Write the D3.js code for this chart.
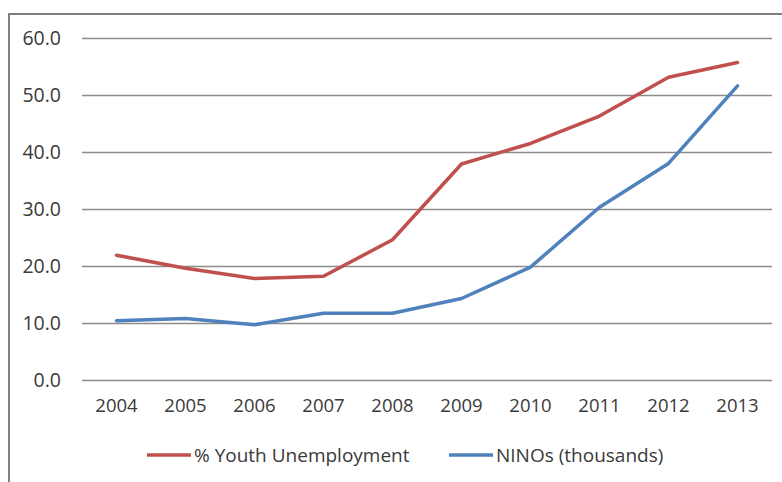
<!DOCTYPE html>
<html>
<head>
<meta charset="utf-8">
<script src="https://cdn.jsdelivr.net/npm/d3@7"></script>
<style>
  body { margin: 0; background: #fff; }
  text { font-family: "Open Sans", sans-serif; fill: #3a3a3a; }
</style>
</head>
<body>
<svg id="chart" width="782" height="482"></svg>
<script>
const years = ["2004", "2005", "2006", "2007", "2008", "2009", "2010", "2011", "2012", "2013"];
const youthUnemployment = [21.9, 19.6, 17.8, 18.2, 24.6, 37.9, 41.5, 46.3, 53.1, 55.7];
const ninos = [10.4, 10.8, 9.7, 11.7, 11.7, 14.3, 19.8, 30.3, 38.0, 51.6];
const yTicks = [0, 10, 20, 30, 40, 50, 60];
const seriesNames = ["% Youth Unemployment", "NINOs (thousands)"];
const seriesColors = ["#c0504d", "#4f81bd"];

const svg = d3.select("#chart");
const width = +svg.attr("width");
const height = +svg.attr("height");

// chart area frame (cropped on right and bottom in the original)
svg.append("rect")
    .attr("x", 9).attr("y", 14)
    .attr("width", width + 10).attr("height", height + 10)
    .attr("fill", "none")
    .attr("stroke", "#7f7f7f")
    .attr("stroke-width", 2);

const plot = { left: 82, right: 772, top: 38, bottom: 380 };

const x = d3.scaleBand()
    .domain(years)
    .range([plot.left, plot.right]);

const y = d3.scaleLinear()
    .domain([0, 60])
    .range([plot.bottom, plot.top]);

// gridlines + y labels
const yAxis = d3.axisLeft(y)
    .tickValues(yTicks)
    .tickSize(-(plot.right - plot.left))
    .tickPadding(21)
    .tickFormat(d3.format(".1f"));

const gy = svg.append("g")
    .attr("transform", "translate(" + plot.left + ",0)")
    .call(yAxis);
gy.select(".domain").remove();
gy.selectAll(".tick line").attr("stroke", "#8c8c8c").attr("stroke-width", 1.4);
gy.selectAll(".tick text").style("font-size", "19.5px").attr("fill", "#3a3a3a");

// x labels
const xAxis = d3.axisBottom(x).tickSize(0).tickPadding(19);
const gx = svg.append("g")
    .attr("transform", "translate(0," + plot.bottom + ")")
    .call(xAxis);
gx.select(".domain").remove();
gx.selectAll(".tick text").style("font-size", "18.5px").attr("fill", "#3a3a3a");

const line = d3.line()
    .x((d, i) => x(years[i]) + x.bandwidth() / 2)
    .y(d => y(d));

[youthUnemployment, ninos].forEach((vals, i) => {
  svg.append("path")
      .datum(vals)
      .attr("fill", "none")
      .attr("stroke", seriesColors[i])
      .attr("stroke-width", 3.5)
      .attr("stroke-linejoin", "round")
      .attr("stroke-linecap", "round")
      .attr("d", line);
});

// legend
const legendX = [147, 449];
const legend = svg.append("g");
seriesNames.forEach((name, i) => {
  const g = legend.append("g").attr("transform", "translate(" + legendX[i] + ",455)");
  g.append("line")
      .attr("x1", 0).attr("x2", 44)
      .attr("stroke", seriesColors[i])
      .attr("stroke-width", 3.5);
  g.append("text")
      .attr("x", 47)
      .attr("dy", "0.35em")
      .style("font-size", "19px")
      .text(name);
});
</script>
</body>
</html>
